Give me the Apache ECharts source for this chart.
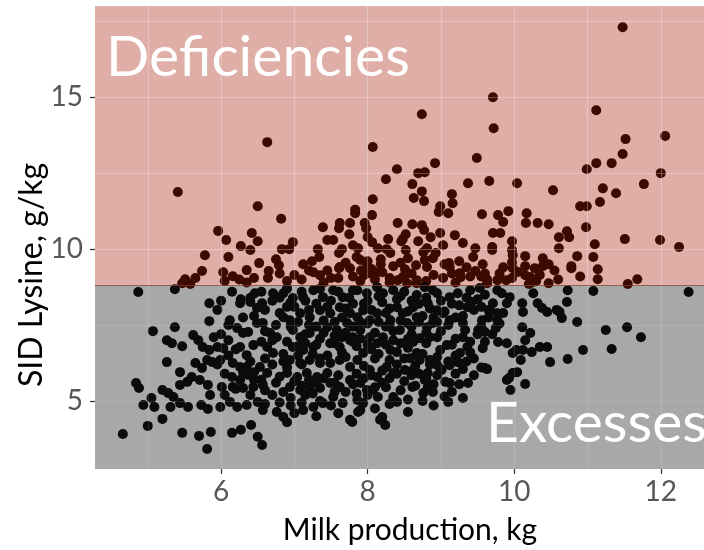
<!DOCTYPE html>
<html>
<head>
<meta charset="utf-8">
<script src="https://cdn.jsdelivr.net/npm/echarts@6/dist/echarts.min.js"></script>
<style>html,body{margin:0;padding:0;background:#fff;}#chart{width:704px;height:550px;}</style>
</head>
<body>
<div id="chart"></div>
<script>
// ---- data: [milk production kg, SID lysine g/kg] ----
const pointsHigh = [
[6.63,13.52],[5.41,11.88],[6.50,11.41],[6.82,11.0],[5.96,10.6],[6.42,10.53],[6.07,10.3],[6.5,10.26],[6.27,10.1],[6.4,9.97],
[6.98,10.23],[6.83,10.0],[6.93,10.0],[7.39,10.72],[7.83,11.3],[7.83,11.18],[7.62,10.86],[7.61,10.69],[7.76,10.86],[7.45,10.3],
[7.53,10.3],[7.75,10.49],[7.8,10.13],[7.32,10.0],[7.61,9.87],[7.65,10.0],[7.85,9.74],[5.78,9.8],[6.1,9.74],[6.52,9.54],
[6.75,9.67],[6.79,9.47],[7.12,9.5],[7.24,9.6],[7.34,9.74],[7.61,9.37],[5.74,9.28],[6.03,9.24],[6.16,9.11],[6.35,9.31],
[6.65,9.28],[7.26,9.24],[7.35,9.14],[5.51,9.01],[5.47,8.88],[5.58,8.85],[6.64,9.05],[6.35,8.9],[7.62,9.41],[7.9,9.64],
[7.76,9.37],[7.91,9.3],[7.95,9.14],[7.99,9.44],[8.02,9.21],[8.13,9.24],[7.87,10.03],[8.07,11.64],[8.06,11.12],[7.96,10.86],
[7.98,10.69],[8.0,10.4],[8.06,10.23],[8.92,12.83],[8.4,12.63],[8.25,12.3],[8.69,12.5],[8.78,12.53],[8.61,12.14],[8.74,11.9],
[8.63,11.68],[8.77,11.58],[9.15,11.81],[9.16,11.51],[8.99,11.41],[8.97,11.22],[9.1,11.18],[9.37,12.17],[9.66,12.24],[9.56,11.15],
[9.78,11.12],[9.85,10.89],[9.92,11.25],[8.41,10.86],[8.61,10.82],[8.74,10.79],[8.77,10.63],[8.52,10.49],[8.48,10.33],[8.28,10.33],
[8.99,10.53],[9.19,10.46],[8.86,10.39],[8.69,10.26],[8.46,10.26],[9.71,10.53],[9.81,10.53],[9.97,10.26],[9.3,10.2],[9.03,10.13],
[8.81,10.03],[8.76,9.9],[8.52,9.97],[8.26,10.0],[8.31,9.87],[8.14,10.03],[8.93,9.87],[8.89,9.7],[9.47,10.03],[9.7,10.07],
[9.7,9.97],[8.18,9.67],[8.18,9.5],[8.35,9.44],[8.66,9.47],[8.78,9.64],[8.81,9.41],[9.11,9.54],[9.12,9.41],[9.44,9.74],
[9.57,9.5],[9.97,9.57],[9.26,9.21],[9.27,9.08],[9.47,9.28],[8.51,9.34],[8.48,9.08],[8.2,9.24],[8.67,8.98],[9.03,9.05],
[8.41,8.98],[9.63,9.0],[9.77,8.98],[9.89,8.98],[9.97,9.05],[10.99,12.63],[11.12,12.83],[11.33,12.83],[12.0,12.5],[10.04,12.17],
[10.53,11.94],[11.21,12.0],[11.39,11.84],[11.77,12.14],[11.17,11.55],[10.9,11.41],[10.99,11.41],[10.17,11.18],[10.16,10.86],[10.32,10.86],
[10.47,10.82],[10.98,10.72],[10.72,10.59],[10.75,10.39],[10.61,10.39],[11.1,10.16],[11.51,10.33],[11.99,10.3],[12.25,10.07],[10.61,10.03],
[9.97,9.97],[9.98,9.8],[10.15,9.77],[10.39,9.7],[10.86,9.77],[11.08,9.74],[9.98,9.37],[10.15,9.44],[10.28,9.37],[10.39,9.44],
[10.47,9.5],[10.78,9.44],[10.78,9.37],[11.14,9.34],[10.15,9.14],[10.22,9.08],[10.2,8.85],[10.24,8.9],[10.47,8.88],[11.14,9.01],
[11.68,9.01],[11.55,8.85],[11.48,17.3],[9.71,15.0],[9.72,13.98],[8.74,14.44],[11.12,14.57],[11.52,13.62],[12.06,13.72],[11.48,13.13],
[8.07,13.36],[9.49,13.0],[6.9,8.95],[7.1,9.0],[7.4,8.9],[7.6,9.05],[7.9,8.95],[8.1,9.0],[8.3,8.9],[8.5,9.1],
[8.8,8.95],[9.2,8.9],[9.4,9.1],[9.6,9.2],[10.3,8.95],[10.6,9.0],[8.0,9.6],[8.55,9.7],[9.05,9.5],[7.7,9.55],
[6.25,9.0],[6.05,8.95],[5.65,9.05],[8.67,8.88],[8.54,8.88],[9.63,8.88],
[7.0,9.15],[7.2,9.3],[7.45,9.3],[7.8,9.1],[8.05,9.35],[8.3,9.05],[8.6,9.2],[8.9,9.15],[9.15,9.2],[9.35,9.4],
[9.55,9.1],[9.8,9.2],[10.05,9.25],[10.35,9.15],[10.55,9.3],[9.85,9.4],[9.25,9.6],[8.45,9.55],[7.5,9.05],[6.8,9.2],
[6.45,9.05],[10.9,9.1]
];

const pointsLow = [
[4.87,8.59],[5.37,8.68],[5.84,8.22],[5.84,7.63],[5.07,7.3],[5.37,7.43],[5.26,7.0],[5.33,6.9],[5.47,6.8],[5.62,7.17],
[5.69,7.0],[5.75,6.78],[5.84,6.68],[5.95,6.78],[6.03,6.74],[5.26,6.28],[5.44,5.95],[5.65,6.25],[5.74,6.09],[5.81,6.35],
[5.88,6.28],[5.99,6.35],[5.6,5.79],[5.54,5.63],[5.44,5.53],[5.71,5.69],[5.82,5.53],[4.84,5.59],[4.88,5.43],[5.2,5.36],
[5.28,5.26],[5.35,5.13],[5.05,5.1],[4.94,4.87],[5.09,4.8],[5.31,4.8],[5.44,4.93],[5.55,4.8],[5.73,4.87],[5.82,4.74],
[5.99,4.8],[5.85,5.2],[6.01,5.46],[5.0,4.18],[5.2,4.41],[4.66,3.91],[5.47,3.95],[5.7,3.85],[5.86,3.98],[5.81,3.42],
[6.15,3.95],[6.27,4.05],[6.41,4.21],[6.5,3.82],[6.56,3.55],[6.12,7.66],[6.22,7.4],[6.26,8.22],[6.27,8.35],[6.46,8.55],
[6.56,8.22],[6.49,8.06],[6.4,8.26],[6.3,7.24],[6.37,7.27],[6.49,7.57],[6.57,7.57],[6.26,6.78],[6.35,6.51],[6.44,6.84],
[6.16,6.25],[6.26,6.12],[6.35,6.12],[6.15,5.79],[6.26,5.69],[6.37,5.86],[6.16,5.46],[6.3,5.43],[6.44,5.46],[6.57,5.53],
[6.12,4.97],[6.22,4.8],[6.35,4.87],[6.5,4.97],[6.57,4.7],[6.76,4.64],[6.85,4.47],[6.53,6.12],[6.63,5.92],[6.63,6.78],
[6.71,6.58],[6.67,7.24],[6.76,7.1],[6.85,7.76],[6.94,7.66],[6.71,8.55],[6.85,8.55],[6.98,8.39],[6.98,7.34],[7.08,7.1],
[7.21,7.24],[6.98,6.78],[7.12,6.68],[7.26,6.78],[6.94,6.35],[7.08,6.25],[7.21,6.35],[7.35,6.25],[6.9,5.92],[7.04,5.79],
[7.17,5.92],[7.31,5.79],[7.45,5.92],[6.94,5.46],[7.08,5.36],[7.21,5.46],[7.35,5.43],[7.12,4.7],[7.26,4.8],[7.39,4.93],
[7.53,5.13],[7.66,4.93],[7.76,4.38],[7.49,5.59],[7.62,5.46],[7.76,5.69],[7.49,6.25],[7.62,6.35],[7.76,6.12],[7.49,6.9],
[7.62,6.78],[7.76,7.0],[7.45,7.43],[7.58,7.34],[7.72,7.57],[7.08,7.89],[7.21,7.76],[7.35,7.99],[7.49,7.89],[7.62,8.09],
[7.76,7.89],[7.12,8.42],[7.26,8.65],[7.39,8.42],[7.53,8.65],[7.66,8.42],[7.8,8.65],[12.38,8.59],[11.25,7.34],[11.54,7.43],
[11.73,7.1],[11.33,6.71],[10.94,6.68],[10.73,6.38],[10.49,6.28],[10.86,7.6],[10.65,7.73],[10.62,7.93],[10.58,8.0],[10.72,8.26],
[10.73,8.65],[11.08,8.62],[10.45,7.93],[10.38,8.06],[10.32,8.22],[10.26,8.55],[10.45,6.78],[10.35,6.78],[10.24,6.61],[10.12,6.68],
[10.09,6.35],[10.22,7.24],[10.15,7.0],[10.11,7.43],[10.03,6.68],[9.98,6.58],[10.04,5.95],[9.98,5.92],[10.15,5.56],[9.9,5.69],
[9.93,5.76],[9.95,5.36],[9.78,6.94],[9.9,6.9],[9.57,6.74],[9.6,6.09],[9.63,6.05],[9.6,7.27],[9.77,7.66],[9.77,7.89],
[9.67,7.99],[9.71,8.22],[9.9,8.22],[9.94,8.42],[10.11,8.22],[10.12,7.93],[9.83,8.55],[9.77,8.65],[9.37,5.59],[9.3,5.1],
[9.1,4.97],[9.15,5.3],[9.06,5.63],[9.12,5.59],[8.89,5.3],[8.82,5.46],[8.76,5.26],[8.61,5.46],[8.82,5.92],[8.78,5.69],
[8.55,4.64],[8.4,4.97],[8.35,5.13],[8.24,4.21],[8.17,4.38],[8.2,4.47],[8.14,5.13],[7.87,4.64],[7.79,4.31],[7.94,4.93],
[7.86,5.03],[9.33,7.34],[9.3,7.57],[9.56,7.66],[9.51,7.34],[9.36,6.78],[9.26,6.58],[9.23,6.28],[9.12,6.18],[9.08,6.84],
[8.99,6.68],[8.95,6.18],[9.01,6.02],[9.03,7.89],[9.12,7.66],[9.36,8.09],[9.42,8.26],[9.12,8.42],[9.23,8.55],[9.4,8.65],
[9.53,8.72],[8.89,8.65],[8.78,8.75],[8.67,8.49],[8.82,8.22],[8.95,7.99],[8.89,7.57],[8.81,7.43],[8.85,7.1],[8.71,7.07],
[8.62,6.94],[8.67,6.58],[8.58,6.41],[8.71,6.35],[8.51,6.02],[8.62,6.02],[8.4,6.61],[8.31,6.68],[8.26,6.12],[8.35,5.92],
[8.03,6.02],[8.13,5.79],[7.9,5.59],[7.99,5.36],[8.07,5.36],[8.44,7.34],[8.54,7.57],[8.48,7.89],[8.4,8.09],[8.62,8.09],
[8.67,7.76],[8.31,7.66],[8.21,7.1],[8.13,6.9],[8.03,7.1],[7.94,6.58],[7.86,6.35],[8.21,8.55],[8.35,8.65],[8.13,8.75],
[7.99,8.55],[7.86,8.65],[7.94,7.99],[7.86,7.76],[8.03,7.66],[8.13,7.89],[7.8,7.1],[7.9,7.34],[6.6,8.0],[6.8,7.9],
[7.0,8.1],[7.2,8.0],[6.7,7.0],[6.9,6.95],[7.15,6.9],[7.35,7.05],[7.55,7.15],[7.7,7.25],[6.6,6.4],[6.85,6.3],
[7.05,6.5],[7.25,6.55],[7.45,6.5],[7.65,6.6],[6.75,5.6],[7.0,5.65],[7.2,5.7],[7.4,5.75],[7.6,5.85],[6.95,5.1],
[7.15,5.2],[7.35,5.0],[6.7,5.2],[7.5,4.85],[7.0,4.6],[7.3,4.5],[6.45,5.95],[6.55,6.95],[6.45,7.8],[6.7,8.3],
[7.05,7.6],[7.3,7.45],[7.55,7.6],[7.8,7.45],[8.0,7.55],[8.25,7.45],[8.45,7.65],[8.7,7.6],[8.9,7.75],[9.1,7.5],
[9.3,7.8],[9.45,8.0],[9.55,7.45],[9.2,7.05],[9.4,6.95],[9.0,7.3],[8.8,6.9],[8.6,7.2],[8.35,7.3],[8.1,7.25],
[7.9,7.05],[7.85,6.8],[8.05,6.7],[8.25,6.85],[8.45,6.9],[8.55,6.75],[8.75,6.55],[8.95,6.45],[9.2,6.5],[9.35,6.3],
[8.3,6.35],[8.1,6.4],[7.95,6.15],[8.2,6.0],[8.4,6.2],[8.65,6.15],[8.85,6.2],[8.05,5.85],[8.3,5.75],[8.5,5.65],
[8.7,5.9],[8.95,5.85],[9.2,5.9],[8.25,5.45],[8.45,5.35],[8.0,5.2],[7.85,5.9],[7.7,5.3],[7.8,8.2],[8.0,8.3],
[8.2,8.25],[8.4,8.35],[8.6,8.3],[8.8,8.4],[9.0,8.3],[8.5,8.6],[8.3,8.05],[8.05,8.0],[8.85,8.05],[9.05,7.95],
[9.25,8.15],[9.5,8.35],[7.75,8.4],[7.5,8.3],[7.3,8.2],[6.95,8.25],[7.1,8.6],[6.9,8.7],[6.55,8.6],[6.4,8.4],
[7.35,8.7],[7.6,8.6],[6.3,7.75],[6.1,7.5],[6.0,8.3],[6.15,8.6],[5.95,8.0],[6.0,7.2],[6.1,7.0],[5.9,7.1],
[6.2,6.7],[6.1,6.5],[5.95,6.2],[6.05,5.9],[6.3,5.95],[6.4,6.3],[6.2,5.4],[6.05,5.2],[6.4,5.2],[6.6,4.9],
[6.8,4.95],[6.95,4.85],[7.1,4.95],[6.9,4.3],[7.6,4.6],[7.9,4.7],[8.1,4.75],[8.3,4.9],[8.55,5.05],[8.75,5.0],
[8.9,4.85],[9.05,5.15],[9.25,5.55],[9.45,5.85],[9.55,6.1],[9.4,6.6],[9.6,6.95],[9.7,7.2],[9.8,7.55],[9.65,7.75],
[6.9,8.1],[7.15,8.3],[7.45,8.1],[7.7,8.05],[7.95,8.2],[8.15,8.45],[8.45,8.45],[8.7,8.2],[8.95,8.55],[9.15,8.2],
[9.35,8.4],[9.6,8.5],[9.55,8.1],[9.2,7.75],[8.95,7.6],[8.75,7.8],[8.55,7.95],[8.25,7.9],[8.15,7.6],[7.9,7.6],
[7.65,7.75],[7.4,7.65],[7.2,7.5],[6.95,7.45],[6.75,7.5],[6.6,7.3],[6.85,6.55],[7.05,6.8],[7.3,6.85],[7.55,6.9],
[7.8,6.95],[8.0,6.85],[8.35,7.0],[8.55,7.05],[8.95,7.1],[9.15,6.85],[9.3,7.1],[9.5,7.2],[9.45,6.4],[9.1,6.3],
[8.85,6.35],[8.5,6.4],[8.15,6.55],[7.7,6.45],[7.35,6.4],[7.1,6.2],[6.9,6.1],[6.7,6.2],[6.55,5.7],[6.8,5.8],
[7.1,5.5],[7.3,5.6],[7.55,5.6],[7.8,5.55],[7.95,5.75],[8.2,5.6],[8.4,5.9],[8.6,5.85],[8.8,5.75],[9.0,6.05],
[9.3,6.05],[8.9,5.55],[8.65,5.5],[8.1,5.45],[7.85,5.25],[7.55,5.3],[7.25,5.25],[6.85,5.3],[6.6,5.35],[6.45,5.7],
[7.15,7.2],[7.4,7.25],[7.65,7.1],[8.3,7.5],[8.6,7.45],[8.8,7.25],[9.65,8.0],[9.85,7.9],[9.75,7.4],[6.8,8.4]
];

const xTicks = [6, 8, 10, 12];
const yTicks = [5, 10, 15];
const xGridLines = [5, 6, 7, 8, 9, 10, 11, 12];
const yGridHigh = [10, 12.5, 15, 17.5];
const yGridLow = [5, 7.5];
const xRange = [4.28, 12.59];
const yRange = [2.76, 18.0];
const threshold = 8.82;
const xTitle = 'Milk production, kg';
const yTitle = 'SID Lysine, g/kg';
const labelHigh = 'Deficiencies';
const labelLow = 'Excesses';

const allPoints = pointsHigh.concat(pointsLow);

const chart = echarts.init(document.getElementById('chart'), null, {renderer: 'canvas'});

function gridLineSeries(xi, yi, ys, color) {
  return {
    type: 'scatter', xAxisIndex: xi, yAxisIndex: yi, data: [], z: 1, silent: true,
    markLine: {
      silent: true, symbol: ['none', 'none'], animation: false,
      label: {show: false},
      lineStyle: {color: color, width: 1.2, type: 'solid'},
      emphasis: {disabled: true},
      data: xGridLines.map(v => ({xAxis: v})).concat(ys.map(v => ({yAxis: v})))
    }
  };
}

const hiddenX = i => ({type: 'value', gridIndex: i, min: xRange[0], max: xRange[1], show: false, splitLine: {show: false}});

const option = {
  animation: false,
  backgroundColor: '#ffffff',
  grid: [
    {left: 95, right: 0, top: 6, height: 279, show: true, backgroundColor: '#dfaea6', borderWidth: 0},
    {left: 95, right: 0, top: 285, height: 184, show: true, backgroundColor: '#a8a8a8', borderWidth: 0},
    {left: 95, right: 0, top: 6, height: 463, show: false}
  ],
  xAxis: [
    hiddenX(0),
    hiddenX(1),
    {
      type: 'value', gridIndex: 2, min: xRange[0], max: xRange[1],
      axisLine: {show: false},
      axisTick: {show: true, customValues: xTicks, length: 5, lineStyle: {color: '#333', width: 1.2}},
      axisLabel: {customValues: xTicks, margin: 9, color: '#575757', fontSize: 28, fontFamily: 'Lato'},
      splitLine: {show: false}
    }
  ],
  yAxis: [
    {type: 'value', gridIndex: 0, min: threshold, max: yRange[1], show: false, splitLine: {show: false}},
    {type: 'value', gridIndex: 1, min: yRange[0], max: threshold, show: false, splitLine: {show: false}},
    {
      type: 'value', gridIndex: 2, min: yRange[0], max: yRange[1],
      axisLine: {show: false},
      axisTick: {show: true, customValues: yTicks, length: 5, lineStyle: {color: '#333', width: 1.2}},
      axisLabel: {customValues: yTicks, margin: 12, color: '#575757', fontSize: 28, fontFamily: 'Lato'},
      splitLine: {show: false}
    }
  ],
  series: [
    gridLineSeries(0, 0, yGridHigh, 'rgba(255,255,255,0.28)'),
    gridLineSeries(1, 1, yGridLow, 'rgba(255,255,255,0.12)'),
    {
      type: 'scatter', xAxisIndex: 0, yAxisIndex: 0, data: allPoints, clip: true, z: 3,
      symbolSize: 10, itemStyle: {color: '#3b0a01', opacity: 1}, silent: true
    },
    {
      type: 'scatter', xAxisIndex: 1, yAxisIndex: 1, data: allPoints, clip: true, z: 3,
      symbolSize: 10, itemStyle: {color: '#0b0b0b', opacity: 1}, silent: true,
      markLine: {
        silent: true, symbol: ['none', 'none'], label: {show: false},
        lineStyle: {color: 'rgba(140,60,50,0.7)', width: 1, type: 'solid'},
        data: [{yAxis: threshold}]
      }
    }
  ],
  graphic: [
    {type: 'text', z: 100, x: 106, y: 58, silent: true,
     style: {text: labelHigh, fill: '#ffffff', font: 'normal 57px Lato', textAlign: 'left', textVerticalAlign: 'middle',
             shadowColor: 'rgba(0,0,0,0.45)', shadowBlur: 4, shadowOffsetX: 1, shadowOffsetY: 2}},
    {type: 'text', z: 100, x: 486, y: 424, silent: true,
     style: {text: labelLow, fill: '#ffffff', font: 'normal 57px Lato', textAlign: 'left', textVerticalAlign: 'middle',
             shadowColor: 'rgba(0,0,0,0.45)', shadowBlur: 4, shadowOffsetX: 1, shadowOffsetY: 2}},
    {type: 'text', z: 100, x: 410, y: 530, silent: true,
     style: {text: xTitle, fill: '#000000', font: 'normal 30px Lato', textAlign: 'center', textVerticalAlign: 'middle'}},
    {type: 'text', z: 100, x: 32, y: 275, rotation: Math.PI / 2, silent: true,
     style: {text: yTitle, fill: '#000000', font: 'normal 32px Lato', textAlign: 'center', textVerticalAlign: 'middle'}}
  ]
};
chart.setOption(option);
</script>
</body>
</html>
